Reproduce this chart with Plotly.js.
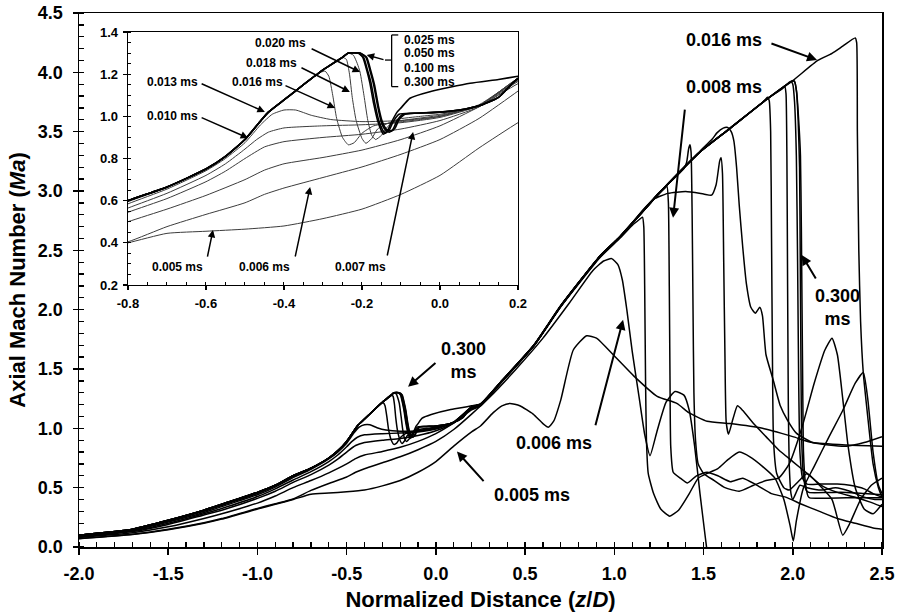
<!DOCTYPE html>
<html>
<head>
<meta charset="utf-8">
<script src="https://cdn.plot.ly/plotly-3.0.1.min.js"></script>
<style>html,body{margin:0;padding:0;background:#fff;}#chart{width:899px;height:616px;}</style>
</head>
<body>
<div id="chart"></div>
<script>
// ---- Data: axial Mach number vs normalized distance, [z/D, Ma] pairs per time ----
const t005 = [[-2.0,0.07],[-1.7,0.105],[-1.5,0.145],[-1.3,0.20],[-1.2,0.235],[-1.0,0.32],[-0.9,0.36],[-0.8,0.40],[-0.7,0.445],[-0.6,0.455],[-0.5,0.465],[-0.4,0.48],[-0.3,0.515],[-0.2,0.56],[-0.1,0.63],[0.0,0.72],[0.1,0.85],[0.2,0.97],[0.25,1.02],[0.32,1.13],[0.37,1.19],[0.415,1.21],[0.47,1.19],[0.545,1.12],[0.6,1.04],[0.63,1.01],[0.66,1.06],[0.70,1.24],[0.77,1.66],[0.845,1.78],[0.90,1.76],[1.0,1.61],[1.11,1.44],[1.24,1.27],[1.35,1.21],[1.42,1.13],[1.52,1.06],[1.65,1.04],[1.83,1.0],[2.0,0.93],[2.11,0.88],[2.3,0.86],[2.5,0.85]];
const t006 = [[-2.0,0.072],[-1.7,0.108],[-1.5,0.15],[-1.3,0.205],[-1.2,0.24],[-1.0,0.325],[-0.9,0.365],[-0.8,0.405],[-0.7,0.477],[-0.6,0.535],[-0.5,0.59],[-0.45,0.63],[-0.4,0.66],[-0.3,0.71],[-0.2,0.76],[-0.1,0.82],[0.0,0.89],[0.1,0.99],[0.2,1.12],[0.3,1.26],[0.45,1.50],[0.6,1.76],[0.75,2.06],[0.88,2.33],[0.94,2.41],[0.985,2.43],[1.02,2.38],[1.045,2.25],[1.07,2.0],[1.10,1.65],[1.14,1.25],[1.17,0.95],[1.20,0.77],[1.24,0.98],[1.29,1.22],[1.34,1.31],[1.39,1.28],[1.42,1.15],[1.45,0.85],[1.48,0.45],[1.51,0.08],[1.525,-0.1]];
const t007 = [[-2.0,0.08],[-1.7,0.12],[-1.5,0.17],[-1.3,0.24],[-1.2,0.28],[-1.0,0.37],[-0.9,0.43],[-0.8,0.50],[-0.7,0.56],[-0.6,0.625],[-0.5,0.70],[-0.45,0.745],[-0.4,0.775],[-0.3,0.805],[-0.2,0.84],[-0.1,0.89],[0.0,0.955],[0.1,1.045],[0.2,1.155],[0.25,1.19],[0.36,1.375],[0.55,1.695],[0.70,2.025],[0.92,2.44],[1.03,2.60],[1.10,2.71],[1.14,2.76],[1.158,2.78],[1.165,2.70],[1.17,2.2],[1.175,1.4],[1.18,0.9],[1.19,0.62],[1.22,0.45],[1.26,0.32],[1.31,0.26],[1.36,0.31],[1.42,0.45],[1.47,0.58],[1.52,0.62],[1.58,0.66],[1.64,0.74],[1.70,0.80],[1.76,0.76],[1.83,0.68],[1.90,0.58],[1.95,0.40],[1.985,0.18],[2.003,0.05],[2.02,0.22],[2.06,0.50],[2.12,0.68],[2.2,0.92],[2.28,1.15],[2.35,1.38],[2.395,1.47],[2.42,1.25],[2.45,0.80],[2.48,0.52],[2.5,0.45]];
const t008 = [[-2.0,0.085],[-1.7,0.13],[-1.5,0.19],[-1.3,0.27],[-1.2,0.31],[-1.0,0.41],[-0.9,0.47],[-0.8,0.545],[-0.7,0.61],[-0.6,0.69],[-0.55,0.74],[-0.5,0.80],[-0.45,0.855],[-0.4,0.88],[-0.3,0.90],[-0.2,0.915],[-0.1,0.94],[0.0,0.98],[0.1,1.045],[0.2,1.165],[0.25,1.195],[0.36,1.38],[0.55,1.70],[0.70,2.03],[0.92,2.45],[1.03,2.61],[1.25,2.98],[1.28,3.02],[1.295,3.04],[1.303,2.9],[1.308,2.2],[1.312,1.4],[1.316,0.85],[1.33,0.63],[1.37,0.58],[1.41,0.54],[1.46,0.60],[1.52,0.63],[1.58,0.60],[1.65,0.55],[1.72,0.58],[1.80,0.52],[1.88,0.45],[1.96,0.42],[2.05,0.36],[2.15,0.30],[2.25,0.24],[2.35,0.20],[2.45,0.16],[2.5,0.15]];
const t010 = [[-2.0,0.09],[-1.7,0.135],[-1.5,0.20],[-1.3,0.28],[-1.2,0.325],[-1.0,0.425],[-0.9,0.49],[-0.8,0.565],[-0.7,0.635],[-0.6,0.72],[-0.55,0.775],[-0.5,0.845],[-0.47,0.89],[-0.44,0.925],[-0.4,0.945],[-0.3,0.955],[-0.2,0.96],[-0.1,0.97],[0.0,0.995],[0.1,1.05],[0.2,1.17],[0.25,1.20],[0.36,1.385],[0.55,1.705],[0.70,2.035],[0.92,2.455],[1.03,2.615],[1.25,2.985],[1.39,3.19],[1.405,3.24],[1.417,3.36],[1.424,3.39],[1.43,3.33],[1.436,2.8],[1.441,2.0],[1.446,1.3],[1.455,0.9],[1.47,0.7],[1.50,0.62],[1.56,0.56],[1.62,0.50],[1.70,0.47],[1.78,0.52],[1.85,0.56],[1.92,0.58],[1.98,0.70],[2.05,1.00],[2.12,1.38],[2.18,1.66],[2.22,1.76],[2.25,1.62],[2.28,1.25],[2.31,0.85],[2.35,0.50],[2.40,0.32],[2.45,0.28],[2.5,0.36]];
const t013 = [[-2.0,0.095],[-1.7,0.14],[-1.5,0.21],[-1.3,0.29],[-1.2,0.34],[-1.0,0.44],[-0.9,0.505],[-0.8,0.585],[-0.7,0.655],[-0.6,0.742],[-0.55,0.80],[-0.5,0.875],[-0.46,0.96],[-0.43,1.01],[-0.40,1.03],[-0.37,1.03],[-0.33,1.005],[-0.28,0.985],[-0.2,0.975],[-0.1,0.98],[0.0,1.0],[0.1,1.05],[0.2,1.175],[0.25,1.20],[0.36,1.38],[0.55,1.70],[0.70,2.03],[0.92,2.45],[1.03,2.61],[1.10,2.73],[1.16,2.84],[1.22,2.93],[1.30,2.98],[1.40,2.995],[1.50,2.975],[1.545,2.965],[1.57,3.05],[1.59,3.25],[1.598,3.28],[1.606,3.15],[1.613,2.4],[1.62,1.6],[1.627,1.05],[1.64,0.95],[1.665,1.08],[1.69,1.19],[1.72,1.15],[1.78,1.04],[1.85,0.93],[1.92,0.82],[2.0,0.72],[2.08,0.62],[2.16,0.52],[2.25,0.46],[2.35,0.42],[2.43,0.38],[2.5,0.34]];
const t016 = [[-2.0,0.098],[-1.7,0.145],[-1.5,0.218],[-1.3,0.30],[-1.2,0.35],[-1.0,0.45],[-0.9,0.515],[-0.8,0.595],[-0.7,0.662],[-0.6,0.748],[-0.55,0.808],[-0.5,0.888],[-0.46,0.975],[-0.44,1.02],[-0.40,1.078],[-0.35,1.15],[-0.31,1.205],[-0.295,1.215],[-0.285,1.19],[-0.275,1.10],[-0.265,0.99],[-0.25,0.90],[-0.235,0.865],[-0.22,0.875],[-0.20,0.92],[-0.17,0.955],[-0.12,0.97],[-0.05,0.985],[0.0,1.0],[0.1,1.055],[0.2,1.175],[0.25,1.20],[0.36,1.38],[0.55,1.70],[0.70,2.03],[0.92,2.45],[1.03,2.61],[1.25,2.98],[1.48,3.33],[1.65,3.53],[1.86,3.78],[2.0,3.93],[2.14,4.10],[2.22,4.16],[2.28,4.22],[2.35,4.29],[2.358,4.25],[2.362,3.5],[2.37,2.5],[2.38,1.9],[2.395,1.47],[2.42,1.1],[2.45,0.7],[2.48,0.5],[2.5,0.42]];
const t018 = [[-2.0,0.10],[-1.7,0.148],[-1.5,0.222],[-1.3,0.305],[-1.2,0.355],[-1.0,0.455],[-0.9,0.518],[-0.8,0.598],[-0.7,0.664],[-0.6,0.75],[-0.55,0.81],[-0.5,0.89],[-0.46,0.977],[-0.44,1.02],[-0.40,1.078],[-0.35,1.15],[-0.30,1.22],[-0.27,1.26],[-0.25,1.28],[-0.24,1.27],[-0.232,1.20],[-0.225,1.09],[-0.215,0.98],[-0.20,0.895],[-0.19,0.872],[-0.175,0.895],[-0.16,0.94],[-0.13,0.97],[-0.08,0.985],[0.0,1.005],[0.1,1.05],[0.2,1.18],[0.25,1.205],[0.36,1.385],[0.55,1.70],[0.70,2.035],[0.92,2.45],[1.03,2.615],[1.25,2.98],[1.48,3.335],[1.55,3.44],[1.575,3.49],[1.61,3.53],[1.635,3.535],[1.655,3.50],[1.67,3.42],[1.685,3.2],[1.70,2.88],[1.72,2.52],[1.74,2.22],[1.765,2.02],[1.79,1.97],[1.815,2.02],[1.83,1.95],[1.85,1.62],[1.89,1.41],[1.93,1.19],[1.97,1.07],[2.02,0.96],[2.11,0.88],[2.2,0.86],[2.3,0.85],[2.4,0.88],[2.5,0.93]];
const t020 = [[-2.0,0.10],[-1.7,0.15],[-1.5,0.225],[-1.3,0.31],[-1.2,0.36],[-1.0,0.46],[-0.9,0.52],[-0.8,0.60],[-0.7,0.665],[-0.6,0.75],[-0.55,0.81],[-0.5,0.89],[-0.46,0.978],[-0.44,1.02],[-0.40,1.078],[-0.35,1.15],[-0.30,1.22],[-0.25,1.28],[-0.235,1.30],[-0.222,1.29],[-0.212,1.25],[-0.205,1.21],[-0.195,1.10],[-0.185,0.98],[-0.175,0.91],[-0.165,0.89],[-0.15,0.91],[-0.135,0.95],[-0.11,0.985],[-0.05,1.0],[0.0,1.01],[0.1,1.05],[0.2,1.18],[0.25,1.205],[0.36,1.38],[0.55,1.70],[0.70,2.03],[0.92,2.45],[1.03,2.61],[1.25,2.98],[1.48,3.33],[1.65,3.53],[1.84,3.76],[1.858,3.79],[1.868,3.76],[1.876,3.5],[1.881,2.6],[1.886,1.6],[1.892,0.9],[1.91,0.62],[1.95,0.50],[1.98,0.48],[2.03,0.55],[2.08,0.62],[2.15,0.52],[2.22,0.40],[2.28,0.10],[2.32,0.20],[2.38,0.40],[2.44,0.52],[2.5,0.58]];
const t025 = [[-2.0,0.10],[-1.7,0.15],[-1.5,0.225],[-1.3,0.31],[-1.2,0.36],[-1.0,0.46],[-0.9,0.52],[-0.8,0.60],[-0.7,0.665],[-0.6,0.75],[-0.55,0.81],[-0.5,0.89],[-0.46,0.978],[-0.44,1.02],[-0.40,1.078],[-0.35,1.15],[-0.30,1.22],[-0.25,1.28],[-0.235,1.30],[-0.21,1.30],[-0.198,1.28],[-0.188,1.22],[-0.18,1.16],[-0.17,1.06],[-0.16,0.98],[-0.15,0.93],[-0.145,0.915],[-0.135,0.93],[-0.125,0.97],[-0.11,1.02],[-0.10,1.04],[-0.077,1.086],[-0.026,1.117],[0.077,1.157],[0.15,1.175],[0.2,1.19],[0.25,1.205],[0.36,1.38],[0.55,1.70],[0.70,2.03],[0.92,2.45],[1.03,2.61],[1.25,2.98],[1.48,3.33],[1.65,3.53],[1.86,3.78],[1.94,3.86],[1.955,3.88],[1.962,3.82],[1.967,3.3],[1.971,2.2],[1.975,1.2],[1.98,0.7],[1.99,0.45],[2.0,0.40],[2.04,0.52],[2.08,0.50],[2.16,0.48],[2.24,0.50],[2.32,0.47],[2.40,0.42],[2.46,0.40],[2.5,0.40]];
const t050 = [[-2.0,0.10],[-1.7,0.15],[-1.5,0.225],[-1.3,0.31],[-1.2,0.36],[-1.0,0.46],[-0.9,0.52],[-0.8,0.60],[-0.7,0.665],[-0.6,0.75],[-0.55,0.81],[-0.5,0.89],[-0.46,0.978],[-0.44,1.02],[-0.40,1.078],[-0.35,1.15],[-0.30,1.22],[-0.25,1.28],[-0.235,1.30],[-0.21,1.30],[-0.196,1.28],[-0.186,1.22],[-0.177,1.16],[-0.167,1.06],[-0.157,0.98],[-0.147,0.935],[-0.14,0.92],[-0.13,0.935],[-0.12,0.975],[-0.105,1.01],[-0.07,1.015],[0.0,1.02],[0.05,1.03],[0.1,1.05],[0.15,1.09],[0.2,1.18],[0.25,1.20],[0.36,1.385],[0.55,1.70],[0.70,2.03],[0.92,2.45],[1.03,2.61],[1.25,2.98],[1.48,3.33],[1.65,3.53],[1.86,3.78],[1.95,3.88],[1.975,3.91],[1.99,3.925],[2.0,3.90],[2.01,3.75],[2.02,3.3],[2.027,2.4],[2.033,1.4],[2.04,0.8],[2.055,0.58],[2.08,0.53],[2.15,0.53],[2.25,0.53],[2.32,0.52],[2.40,0.49],[2.45,0.45],[2.5,0.42]];
const t100 = [[-2.0,0.10],[-1.7,0.15],[-1.5,0.225],[-1.3,0.31],[-1.2,0.36],[-1.0,0.46],[-0.9,0.52],[-0.8,0.60],[-0.7,0.665],[-0.6,0.75],[-0.55,0.81],[-0.5,0.89],[-0.46,0.978],[-0.44,1.02],[-0.40,1.078],[-0.35,1.15],[-0.30,1.22],[-0.25,1.28],[-0.235,1.30],[-0.205,1.30],[-0.19,1.28],[-0.18,1.22],[-0.17,1.15],[-0.16,1.05],[-0.15,0.97],[-0.14,0.935],[-0.13,0.925],[-0.12,0.94],[-0.11,0.98],[-0.095,1.01],[-0.06,1.015],[0.0,1.02],[0.05,1.03],[0.1,1.05],[0.15,1.09],[0.2,1.18],[0.25,1.20],[0.36,1.385],[0.55,1.70],[0.70,2.03],[0.92,2.45],[1.03,2.61],[1.25,2.98],[1.48,3.33],[1.65,3.53],[1.86,3.78],[2.0,3.93],[2.01,3.92],[2.02,3.85],[2.03,3.6],[2.038,3.2],[2.042,2.4],[2.046,1.5],[2.05,0.9],[2.06,0.6],[2.075,0.48],[2.09,0.46],[2.2,0.46],[2.3,0.46],[2.4,0.45],[2.5,0.44]];
const t300 = [[-2.0,0.10],[-1.7,0.15],[-1.5,0.225],[-1.3,0.31],[-1.2,0.36],[-1.0,0.46],[-0.9,0.52],[-0.8,0.60],[-0.7,0.665],[-0.6,0.75],[-0.55,0.81],[-0.5,0.89],[-0.46,0.978],[-0.44,1.02],[-0.40,1.078],[-0.35,1.15],[-0.30,1.22],[-0.25,1.28],[-0.235,1.30],[-0.205,1.30],[-0.188,1.28],[-0.178,1.22],[-0.168,1.15],[-0.158,1.05],[-0.148,0.975],[-0.138,0.94],[-0.125,0.93],[-0.115,0.945],[-0.105,0.985],[-0.09,1.01],[-0.06,1.015],[0.0,1.02],[0.05,1.03],[0.1,1.05],[0.15,1.09],[0.2,1.18],[0.25,1.20],[0.36,1.385],[0.55,1.70],[0.70,2.03],[0.92,2.45],[1.03,2.61],[1.25,2.98],[1.48,3.33],[1.65,3.53],[1.86,3.78],[2.0,3.93],[2.01,3.925],[2.022,3.83],[2.035,3.55],[2.043,3.3],[2.048,2.7],[2.052,2.0],[2.056,1.3],[2.06,0.8],[2.07,0.55],[2.085,0.43],[2.095,0.414],[2.3,0.414],[2.5,0.414]];

const timeLabels = ['0.005 ms','0.006 ms','0.007 ms','0.008 ms','0.010 ms','0.013 ms','0.016 ms','0.018 ms','0.020 ms','0.025 ms','0.050 ms','0.100 ms','0.300 ms'];
const series = [t005,t006,t007,t008,t010,t013,t016,t018,t020,t025,t050,t100,t300];
const insetBold = [false,false,false,false,false,false,false,false,false,true,true,true,true];

// Tick positions and labels
const mainXTicks = [-2.0,-1.5,-1.0,-0.5,0.0,0.5,1.0,1.5,2.0,2.5];
const mainXText  = ['-2.0','-1.5','-1.0','-0.5','0.0','0.5','1.0','1.5','2.0','2.5'];
const mainYTicks = [0.0,0.5,1.0,1.5,2.0,2.5,3.0,3.5,4.0,4.5];
const mainYText  = ['0.0','0.5','1.0','1.5','2.0','2.5','3.0','3.5','4.0','4.5'];
const insetXTicks = [-0.8,-0.6,-0.4,-0.2,0.0,0.2];
const insetXText  = ['-0.8','-0.6','-0.4','-0.2','0.0','0.2'];
const insetYTicks = [0.2,0.4,0.6,0.8,1.0,1.2,1.4];
const insetYText  = ['0.2','0.4','0.6','0.8','1.0','1.2','1.4'];
const mainXMinor = [-2.0,-1.9,-1.8,-1.7,-1.6,-1.5,-1.4,-1.3,-1.2,-1.1,-1.0,-0.9,-0.8,-0.7,-0.6,-0.5,-0.4,-0.3,-0.2,-0.1,0.0,0.1,0.2,0.3,0.4,0.5,0.6,0.7,0.8,0.9,1.0,1.1,1.2,1.3,1.4,1.5,1.6,1.7,1.8,1.9,2.0,2.1,2.2,2.3,2.4,2.5];
const mainYMinor = [0.0,0.1,0.2,0.3,0.4,0.5,0.6,0.7,0.8,0.9,1.0,1.1,1.2,1.3,1.4,1.5,1.6,1.7,1.8,1.9,2.0,2.1,2.2,2.3,2.4,2.5,2.6,2.7,2.8,2.9,3.0,3.1,3.2,3.3,3.4,3.5,3.6,3.7,3.8,3.9,4.0,4.1,4.2,4.3,4.4,4.5];
const insetXMinor = [-0.8,-0.75,-0.7,-0.65,-0.6,-0.55,-0.5,-0.45,-0.4,-0.35,-0.3,-0.25,-0.2,-0.15,-0.1,-0.05,0.0,0.05,0.1,0.15,0.2];
const insetYMinor = [0.2,0.25,0.3,0.35,0.4,0.45,0.5,0.55,0.6,0.65,0.7,0.75,0.8,0.85,0.9,0.95,1.0,1.05,1.1,1.15,1.2,1.25,1.3,1.35,1.4];

const FONT = 'Liberation Sans, Arial, Helvetica, sans-serif';

const traces = [];
series.forEach((s, i) => {
  traces.push({x: s.map(p => p[0]), y: s.map(p => p[1]), type: 'scatter', mode: 'lines', name: timeLabels[i],
    xaxis: 'x', yaxis: 'y', line: {color: '#000', width: 1.5, shape: 'spline', smoothing: 0.5}, hoverinfo: 'skip'});
});
series.forEach((s, i) => {
  traces.push({x: s.map(p => p[0]), y: s.map(p => p[1]), type: 'scatter', mode: 'lines', name: timeLabels[i] + ' (inset)',
    xaxis: 'x2', yaxis: 'y2',
    line: {color: insetBold[i] ? '#000' : '#3c3c3c', width: insetBold[i] ? 1.6 : 1.0, shape: 'spline', smoothing: 0.5}, hoverinfo: 'skip'});
});

function txt(text, x, y, size, ref, anchor) {
  return {text: text, x: x, y: y, xref: ref[0], yref: ref[1], showarrow: false,
    xanchor: anchor || 'center', yanchor: 'middle', font: {family: FONT, size: size, color: '#000', weight: 'bold'}};
}
function arr(tx, ty, hx, hy, ref, w) {
  return {text: '', x: hx, y: hy, ax: tx, ay: ty, xref: ref[0], yref: ref[1], axref: ref[0], ayref: ref[1],
    showarrow: true, arrowhead: 2, arrowsize: 1, arrowwidth: w, arrowcolor: '#000'};
}
const M = ['x', 'y'], I = ['x2', 'y2'];
const annotations = [
  txt('0.016 ms', 1.615, 4.272, 18, M), arr(1.872, 4.247, 2.136, 4.104, M, 2),
  txt('0.008 ms', 1.615, 3.876, 18, M), arr(1.396, 3.699, 1.329, 2.774, M, 2),
  txt('0.300<br>ms', 2.248, 2.02, 18, M), arr(2.134, 2.25, 2.05, 2.46, M, 2),
  txt('0.300<br>ms', 0.152, 1.57, 18, M), arr(0.006, 1.561, -0.156, 1.351, M, 2),
  txt('0.006 ms', 0.662, 0.88, 18, M), arr(0.892, 1.014, 1.049, 1.915, M, 2),
  txt('0.005 ms', 0.539, 0.442, 18, M), arr(0.275, 0.543, 0.118, 0.804, M, 2),
  txt('0.020 ms', -0.408, 1.348, 12, I), arr(-0.333, 1.324, -0.205, 1.210, I, 1.5),
  txt('0.018 ms', -0.431, 1.253, 12, I), arr(-0.359, 1.234, -0.231, 1.116, I, 1.5),
  txt('0.016 ms', -0.467, 1.163, 12, I), arr(-0.40, 1.149, -0.269, 1.04, I, 1.5),
  txt('0.013 ms', -0.685, 1.163, 12, I), arr(-0.615, 1.158, -0.449, 1.021, I, 1.5),
  txt('0.010 ms', -0.685, 1.002, 12, I), arr(-0.615, 0.997, -0.492, 0.897, I, 1.5),
  txt('0.005 ms', -0.674, 0.285, 12, I), arr(-0.597, 0.328, -0.582, 0.461, I, 1.5),
  txt('0.006 ms', -0.449, 0.285, 12, I), arr(-0.372, 0.328, -0.333, 0.665, I, 1.5),
  txt('0.007 ms', -0.203, 0.285, 12, I), arr(-0.136, 0.333, -0.069, 0.926, I, 1.5),
  txt('0.025 ms', -0.098, 1.362, 12, I, 'left'),
  txt('0.050 ms', -0.098, 1.300, 12, I, 'left'),
  txt('0.100 ms', -0.098, 1.230, 12, I, 'left'),
  txt('0.300 ms', -0.098, 1.163, 12, I, 'left'),
  arr(-0.141, 1.267, -0.188, 1.291, I, 1.5)
];
const bl = {color: '#000', width: 1.3};
const shapes = [
  {type: 'line', xref: 'x2', yref: 'y2', x0: -0.124, x1: -0.124, y0: 1.141, y1: 1.386, line: bl},
  {type: 'line', xref: 'x2', yref: 'y2', x0: -0.124, x1: -0.107, y0: 1.386, y1: 1.386, line: bl},
  {type: 'line', xref: 'x2', yref: 'y2', x0: -0.124, x1: -0.107, y0: 1.141, y1: 1.141, line: bl},
  {type: 'line', xref: 'x2', yref: 'y2', x0: -0.141, x1: -0.124, y0: 1.267, y1: 1.267, line: bl}
];

const axBase = {showgrid: false, zeroline: false, showline: true, linecolor: '#000', linewidth: 1.5,
  mirror: true, ticks: 'outside', tickcolor: '#000', tickmode: 'array'};

const layout = {
  width: 899, height: 616,
  margin: {l: 79, r: 17, t: 13, b: 69, pad: 0},
  paper_bgcolor: '#fff', plot_bgcolor: '#fff',
  showlegend: false,
  font: {family: FONT, size: 18, color: '#000', weight: 'bold'},
  xaxis: Object.assign({}, axBase, {domain: [0, 1], anchor: 'y', range: [-2, 2.5],
    tickvals: mainXTicks, ticktext: mainXText, ticklen: 6, tickwidth: 1.5,
    tickfont: {family: FONT, size: 18, weight: 'bold'}, ticklabelstandoff: 4,
    minor: {tickmode: 'array', tickvals: mainXMinor, ticks: 'inside', ticklen: 5, tickwidth: 1.3, tickcolor: '#000', showgrid: false},
    title: {text: 'Normalized Distance (<i>z</i>/<i>D</i>)', font: {family: FONT, size: 22, weight: 'bold'}, standoff: 8}}),
  yaxis: Object.assign({}, axBase, {domain: [0, 1], anchor: 'x', range: [0, 4.5],
    tickvals: mainYTicks, ticktext: mainYText, ticklen: 5, tickwidth: 1.5,
    tickfont: {family: FONT, size: 18, weight: 'bold'}, ticklabelstandoff: 6,
    minor: {tickmode: 'array', tickvals: mainYMinor, ticks: 'inside', ticklen: 5, tickwidth: 1.3, tickcolor: '#000', showgrid: false},
    title: {text: 'Axial Mach Number (<i>Ma</i>)', font: {family: FONT, size: 22, weight: 'bold'}, standoff: 6}}),
  xaxis2: Object.assign({}, axBase, {domain: [0.061, 0.5467], anchor: 'y2', range: [-0.8, 0.2],
    tickvals: insetXTicks, ticktext: insetXText, ticklen: 4, tickwidth: 1.2, linewidth: 1.3,
    tickfont: {family: FONT, size: 13, weight: 'bold'}, ticklabelstandoff: 2,
    minor: {tickmode: 'array', tickvals: insetXMinor, ticks: 'inside', ticklen: 3, tickwidth: 1, tickcolor: '#000', showgrid: false}}),
  yaxis2: Object.assign({}, axBase, {domain: [0.4906, 0.9644], anchor: 'x2', range: [0.2, 1.4],
    tickvals: insetYTicks, ticktext: insetYText, ticklen: 4, tickwidth: 1.2, linewidth: 1.3,
    tickfont: {family: FONT, size: 13, weight: 'bold'}, ticklabelstandoff: 2,
    minor: {tickmode: 'array', tickvals: insetYMinor, ticks: 'inside', ticklen: 3, tickwidth: 1, tickcolor: '#000', showgrid: false}}),
  annotations: annotations,
  shapes: shapes
};

Plotly.newPlot('chart', traces, layout, {displayModeBar: false, staticPlot: true});
</script>
</body>
</html>
